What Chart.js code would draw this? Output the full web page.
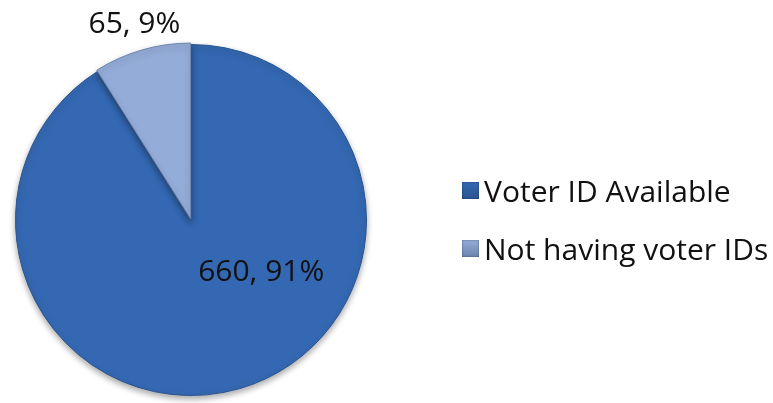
<!DOCTYPE html>
<html>
<head>
<meta charset="utf-8">
<script src="https://cdn.jsdelivr.net/npm/chart.js@4"></script>
<style>
  html, body { margin: 0; padding: 0; background: #fff; }
  #Marco { position: relative; width: 773px; height: 403px; }
  #Grafico { position: absolute; left: 0; top: 0; }
  #Leyenda { position: absolute; left: 462px; top: 170px; font-family: "Open Sans", sans-serif; font-size: 30px; color: #111; }
  .ItemLeyenda { display: flex; align-items: center; height: 40px; margin-bottom: 18px; white-space: nowrap; }
  .CajaLeyenda { width: 17px; height: 17px; margin-right: 5px; flex: none; box-shadow: inset 0 0 2px rgba(0,0,0,0.5); }
</style>
</head>
<body>
<div id="Marco">
  <canvas id="Grafico" width="773" height="403"></canvas>
  <div id="Leyenda"></div>
</div>
<script>
const Categorias = ['Voter ID Available', 'Not having voter IDs'];
const Valores    = [660, 65];
const Porcentajes = [91, 9];
const ColoresBase = ['#3468B2', '#94ACD8'];
const ColoresBorde = ['#2A558F', '#6D83AD'];

// relleno con degradado radial para imitar el bisel de Excel
function Relleno(Ctx) {
  const Arco = Ctx.element;
  const I = Ctx.dataIndex;
  if (!Arco || !Arco.outerRadius) return ColoresBase[I];
  const C = Ctx.chart.ctx;
  const G = C.createRadialGradient(Arco.x, Arco.y, 0, Arco.x, Arco.y, Arco.outerRadius);
  if (I === 0) {
    G.addColorStop(0, '#3468B2');
    G.addColorStop(0.9, '#3165AD');
    G.addColorStop(0.97, '#2B5A9C');
    G.addColorStop(1, '#224A85');
  } else {
    G.addColorStop(0, '#7E96C4');
    G.addColorStop(0.85, '#93ABD8');
    G.addColorStop(0.95, '#A9BFE4');
    G.addColorStop(1, '#7E96C4');
  }
  return G;
}

const PluginSombra = {
  id: 'Sombra',
  beforeDatasetsDraw(Chart) {
    const C = Chart.ctx;
    C.save();
    C.shadowColor = 'rgba(0,0,0,0.35)';
    C.shadowBlur = 6;
    C.shadowOffsetY = 3;
  },
  afterDatasetsDraw(Chart) {
    Chart.ctx.restore();
  }
};

const PluginEtiquetas = {
  id: 'Etiquetas',
  afterDatasetsDraw(Chart) {
    const C = Chart.ctx;
    const Arcos = Chart.getDatasetMeta(0).data;
    C.save();
    C.font = '30px "Open Sans", sans-serif';
    C.fillStyle = '#111';
    C.textAlign = 'center';
    C.textBaseline = 'middle';
    Arcos.forEach((A, I) => {
      const Texto = `${Valores[I]}, ${Porcentajes[I]}%`;
      let X, Y;
      if (I === 0) {
        X = A.x + A.outerRadius * 0.40;
        Y = A.y + A.outerRadius * 0.30;
      } else {
        const Medio = (A.startAngle + A.endAngle) / 2;
        X = A.x + Math.cos(Medio) * A.outerRadius * 1.16;
        Y = A.y + Math.sin(Medio) * A.outerRadius * 1.16;
      }
      C.fillText(Texto, X, Y);
    });
    C.restore();
  }
};

new Chart(document.getElementById('Grafico').getContext('2d'), {
  type: 'pie',
  data: {
    labels: Categorias,
    datasets: [{
      data: Valores,
      backgroundColor: Relleno,
      borderColor: ColoresBorde,
      borderWidth: 1,
      offset: [0, 4]
    }]
  },
  options: {
    responsive: false,
    animation: false,
    layout: { padding: { left: 13, top: 42, right: 404, bottom: 5 } },
    plugins: {
      legend: { display: false },
      tooltip: { enabled: false }
    }
  },
  plugins: [PluginSombra, PluginEtiquetas]
});

document.getElementById('Leyenda').innerHTML = Categorias.map((Cat, I) => `
  <div class="ItemLeyenda">
    <div class="CajaLeyenda" style="background:linear-gradient(180deg, ${ColoresBase[I]}, ${ColoresBorde[I]})"></div>
    <span>${Cat}</span>
  </div>`).join('');
</script>
</body>
</html>
